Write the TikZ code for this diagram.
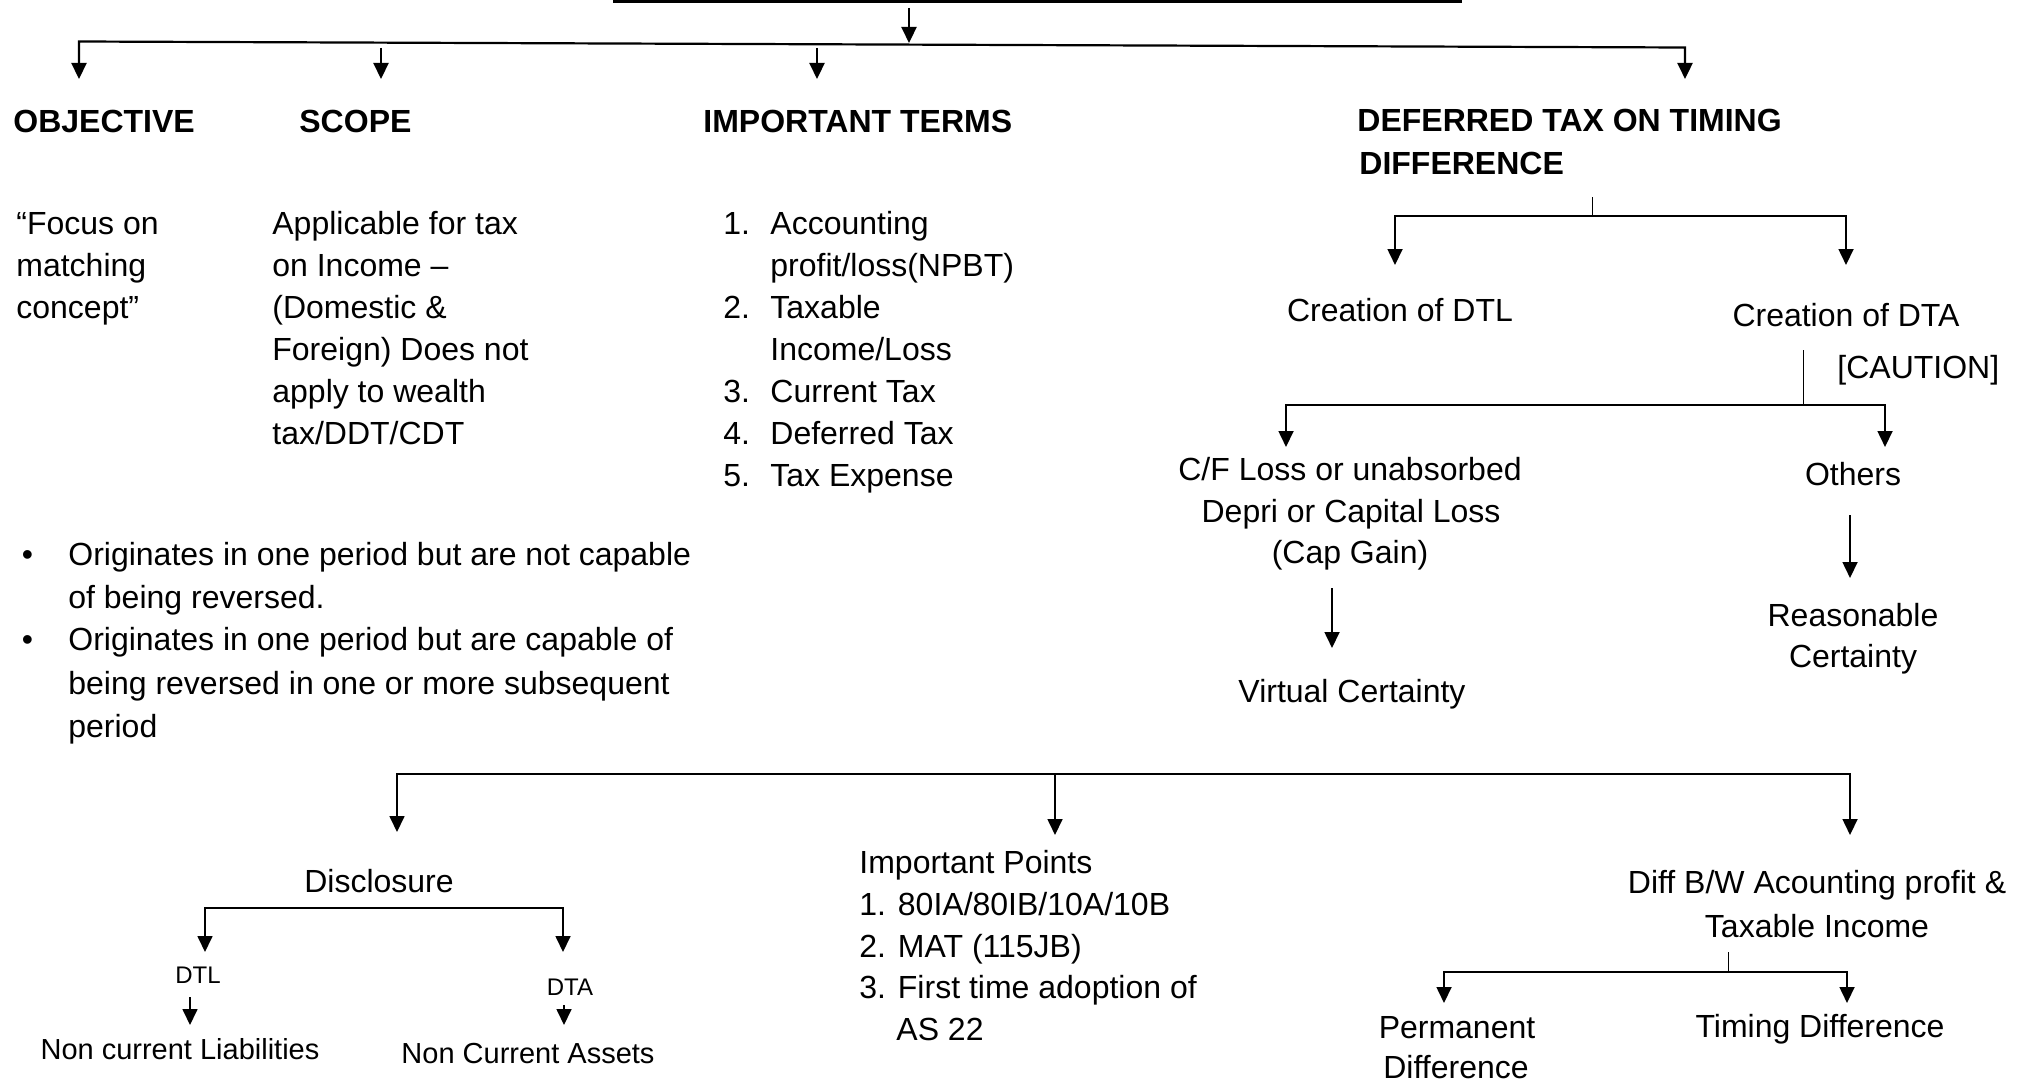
\documentclass[tikz,border=0pt]{standalone}
\usepackage{fontspec}
\setmainfont{Liberation Sans}
\usetikzlibrary{arrows.meta}
\tikzset{
  txt/.style={font=\fontsize{16}{21}\selectfont, inner sep=0pt, anchor=base west},
  txtc/.style={font=\fontsize{16}{21}\selectfont, inner sep=0pt, anchor=base},
  hd/.style={inner sep=0pt, anchor=base west, font=\fontsize{16}{21}\selectfont\bfseries},
  sm/.style={inner sep=0pt, anchor=base, font=\fontsize{12}{14}\selectfont},
  md/.style={inner sep=0pt, anchor=base, font=\fontsize{14.5}{17}\selectfont},
  tipA/.tip={Triangle[width=7.5pt,length=8pt]},
  lnA/.style={line width=1.1pt},
  lnB/.style={line width=0.85pt},
  stub/.style={line width=0.5pt},
  arrA/.style={lnA, -tipA},
  arrB/.style={lnB, -tipA},
  splitA/.style={lnA, tipA-tipA},
  splitB/.style={lnB, tipA-tipA},
}
\begin{document}
\begin{tikzpicture}[x=0.5pt,y=-0.5pt]
\useasboundingbox (0,0) rectangle (2032,1086);

% ---------- top ----------
\coordinate (tl) at (613,1.5);
\coordinate (tr) at (1462,1.5);
\draw[lnA] (tl) -- (tr);
\coordinate (topS) at (909,8);
\coordinate (topE) at (909,43);
\draw[arrA] (topS) -- (topE);

\coordinate (b1e) at (79,79);
\coordinate (b1s) at (79,41.5);
\coordinate (b4s) at (1685,47.5);
\coordinate (b4e) at (1685,79);
\draw[splitA] (b1e) -- (b1s) -- (b4s) -- (b4e);
\coordinate (b2s) at (381,48);
\coordinate (b2e) at (381,79);
\draw[arrA] (b2s) -- (b2e);
\coordinate (b3s) at (817,48);
\coordinate (b3e) at (817,79);
\draw[arrA] (b3s) -- (b3e);

% ---------- headings ----------
\node[hd] (obj) at (13,133) {OBJECTIVE};
\node[hd] (scope) at (299,133) {SCOPE};
\node[hd] (imp) at (703,133) {IMPORTANT TERMS};
\node[hd] (def1) at (1357,132) {DEFERRED TAX ON TIMING};
\node[hd] (def2) at (1359,174) {DIFFERENCE};

% ---------- objective ----------
\node[txt] (o1) at (16,234) {“Focus on};
\node[txt] (o2) at (16,276) {matching};
\node[txt] (o3) at (16,318) {concept”};

% ---------- scope ----------
\node[txt] (s1) at (272,234) {Applicable for tax};
\node[txt] (s2) at (272,276) {on Income –};
\node[txt] (s3) at (272,318) {(Domestic \&};
\node[txt] (s4) at (272,360) {Foreign) Does not};
\node[txt] (s5) at (272,402) {apply to wealth};
\node[txt] (s6) at (272,444) {tax/DDT/CDT};

% ---------- important terms ----------
\node[txt] (n1) at (723,234) {1.};
\node[txt] (i1) at (770,234) {Accounting};
\node[txt] (i1b) at (770,276) {profit/loss(NPBT)};
\node[txt] (n2) at (723,318) {2.};
\node[txt] (i2) at (770,318) {Taxable};
\node[txt] (i2b) at (770,360) {Income/Loss};
\node[txt] (n3) at (723,402) {3.};
\node[txt] (i3) at (770,402) {Current Tax};
\node[txt] (n4) at (723,444) {4.};
\node[txt] (i4) at (770,444) {Deferred Tax};
\node[txt] (n5) at (723,486) {5.};
\node[txt] (i5) at (770,486) {Tax Expense};

% ---------- bullets ----------
\node[txtc] (bu1) at (27.5,565) {•};
\node[txt] (bl1) at (68,565) {Originates in one period but are not capable};
\node[txt] (bl2) at (68,608) {of being reversed.};
\node[txtc] (bu2) at (27.5,650) {•};
\node[txt] (bl3) at (68,650) {Originates in one period but are capable of};
\node[txt] (bl4) at (68,694) {being reversed in one or more subsequent};
\node[txt] (bl5) at (68,737) {period};

% ---------- deferred tax tree ----------
\coordinate (d0) at (1592,197);
\coordinate (d1) at (1592,216);
\draw[stub] (d0) -- (d1);
\coordinate (dLe) at (1395,265);
\coordinate (dL) at (1395,216);
\coordinate (dR) at (1846,216);
\coordinate (dRe) at (1846,265);
\draw[splitB] (dLe) -- (dL) -- (dR) -- (dRe);

\node[txtc] (cdtl) at (1400,321) {Creation of DTL};
\node[txtc] (cdta) at (1846,326) {Creation of DTA};
\node[txt] (caut) at (1837,378) {[CAUTION]};

\coordinate (c0) at (1803,350);
\coordinate (c1) at (1803,405);
\draw[stub] (c0) -- (c1);
\coordinate (cLe) at (1286,447);
\coordinate (cL) at (1286,405);
\coordinate (cR) at (1885,405);
\coordinate (cRe) at (1885,447);
\draw[splitB] (cLe) -- (cL) -- (cR) -- (cRe);

\node[txtc] (cf1) at (1350,480) {C/F Loss or unabsorbed};
\node[txtc] (cf2) at (1351,522) {Depri or Capital Loss};
\node[txtc] (cf3) at (1350,563) {(Cap Gain)};
\node[txtc] (oth) at (1853,485) {Others};

\coordinate (va) at (1332,588);
\coordinate (vb) at (1332,648);
\draw[arrB] (va) -- (vb);
\node[txtc] (vc) at (1352,702) {Virtual Certainty};

\coordinate (ra) at (1850,515);
\coordinate (rb) at (1850,578);
\draw[arrB] (ra) -- (rb);
\node[txtc] (rc1) at (1853,626) {Reasonable};
\node[txtc] (rc2) at (1853,667) {Certainty};

% ---------- bottom tree ----------
\coordinate (q1e) at (397,832);
\coordinate (q1) at (397,774);
\coordinate (q3) at (1850,774);
\coordinate (q3e) at (1850,835);
\draw[splitB] (q1e) -- (q1) -- (q3) -- (q3e);
\coordinate (q2) at (1055,774);
\coordinate (q2e) at (1055,835);
\draw[arrB] (q2) -- (q2e);

\node[txtc] (disc) at (379,892) {Disclosure};
\coordinate (wLe) at (205,952);
\coordinate (wL) at (205,908);
\coordinate (wR) at (563,908);
\coordinate (wRe) at (563,952);
\draw[splitB] (wLe) -- (wL) -- (wR) -- (wRe);
\node[sm] (dtl) at (198,983) {DTL};
\node[sm] (dta) at (570,995) {DTA};
\coordinate (dtla) at (190,997);
\coordinate (dtlb) at (190,1025);
\draw[arrB] (dtla) -- (dtlb);
\coordinate (dtaa) at (564,1005);
\coordinate (dtab) at (564,1025);
\draw[arrB] (dtaa) -- (dtab);
\node[md] (ncl) at (180,1059) {Non current Liabilities};
\node[md] (nca) at (528,1063) {Non Current Assets};

\node[txt] (ip0) at (859,873) {Important Points};
\node[txt] (ip1) at (859,915) {1. 80IA/80IB/10A/10B};
\node[txt] (ip2) at (859,957) {2. MAT (115JB)};
\node[txt] (ip3) at (859,998) {3. First time adoption of};
\node[txt] (ip4) at (896,1040) {AS 22};

\node[txtc] (df1) at (1817,893) {Diff B/W Acounting profit \&};
\node[txtc] (df2) at (1817,937) {Taxable Income};
\coordinate (e0) at (1728,952);
\coordinate (e1) at (1728,972);
\draw[stub] (e0) -- (e1);
\coordinate (eLe) at (1444,1003);
\coordinate (eL) at (1444,972);
\coordinate (eR) at (1847,972);
\coordinate (eRe) at (1847,1003);
\draw[splitB] (eLe) -- (eL) -- (eR) -- (eRe);
\node[txtc] (pd1) at (1457,1038) {Permanent};
\node[txtc] (pd2) at (1456,1078) {Difference};
\node[txtc] (td) at (1820,1037) {Timing Difference};
\end{tikzpicture}
\end{document}
